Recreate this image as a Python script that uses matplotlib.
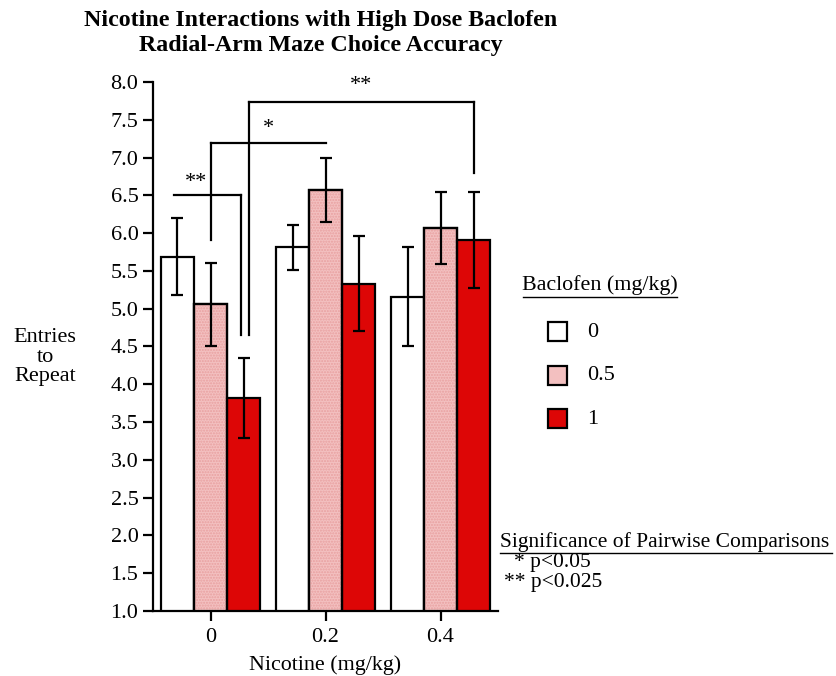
import matplotlib.pyplot as plt
from matplotlib.patches import Rectangle
from matplotlib.lines import Line2D

plt.rcParams['font.family'] = ['Liberation Serif', 'DejaVu Serif']

# data
nicotine = ['0', '0.2', '0.4']
baclofen = ['0', '0.5', '1']
means_b0 = [5.69, 5.81, 5.16]
means_b05 = [5.06, 6.57, 6.07]
means_b1 = [3.82, 5.33, 5.91]
sem_b0 = [0.51, 0.30, 0.65]
sem_b05 = [0.55, 0.42, 0.48]
sem_b1 = [0.53, 0.63, 0.63]
y_ticks = [1.0, 1.5, 2.0, 2.5, 3.0, 3.5, 4.0, 4.5, 5.0, 5.5, 6.0, 6.5, 7.0, 7.5, 8.0]

# brackets: (group, bar) left/right, bar height level, drop levels, label
br_left = [(0, 0), (0, 1), (0, 2)]
br_right = [(0, 2), (1, 1), (2, 2)]
br_y = [6.51, 7.19, 7.73]
br_drop_left = [None, 5.91, 4.65]
br_drop_right = [4.65, None, 6.79]
br_label = ['**', '*', '**']

colors = ['white', '#f3c0c0', '#dd0606']
w = 0.287

fig = plt.figure(figsize=(8.37, 6.76), dpi=100)
ax = fig.add_axes([0.1828, 0.0962, 0.4122, 0.7825])

all_means = [means_b0, means_b05, means_b1]
all_sem = [sem_b0, sem_b05, sem_b1]


def bar_x(g, j):
    return g + (j - 1) * w


for j in range(3):
    xs = [bar_x(g, j) for g in range(3)]
    ax.bar(xs, all_means[j], width=w, bottom=0, color=colors[j],
           edgecolor='black', linewidth=1.6, zorder=2)
    if j == 1:
        # stippled fill of the 0.5 mg/kg bars
        ax.bar(xs, all_means[j], width=w, color='none', edgecolor='#e8a0a0',
               hatch='......', linewidth=0, zorder=2.1)
        ax.bar(xs, all_means[j], width=w, color='none', edgecolor='black',
               linewidth=1.6, zorder=2.2)
    ax.errorbar(xs, all_means[j], yerr=all_sem[j], fmt='none', ecolor='black',
                elinewidth=1.6, capsize=4.5, capthick=1.6, zorder=3)

# significance brackets
nudge_l = [-0.03, 0.0, 0.048]
nudge_r = [-0.022, 0.0, 0.0]
for i in range(3):
    xl = bar_x(*br_left[i]) + nudge_l[i]
    xr = bar_x(*br_right[i]) + nudge_r[i]
    ax.plot([xl, xr], [br_y[i], br_y[i]], color='black', lw=1.6,
            clip_on=False, zorder=4)
    if br_drop_left[i] is not None:
        ax.plot([xl, xl], [br_y[i], br_drop_left[i]], color='black', lw=1.6,
                clip_on=False, zorder=4)
    if br_drop_right[i] is not None:
        ax.plot([xr, xr], [br_y[i], br_drop_right[i]], color='black', lw=1.6,
                clip_on=False, zorder=4)
    xm = (xl + xr) / 2
    if i == 0:
        xm -= 0.1
    ax.text(xm, br_y[i] + 0.04 + 0.03 * i, br_label[i], ha='center',
            va='bottom', fontsize=16, clip_on=False)

ax.set_xlim(-0.5, 2.5)
ax.set_ylim(1.0, 8.0)
ax.set_yticks(y_ticks)
ax.set_yticklabels(['%.1f' % v for v in y_ticks])
ax.set_xticks(range(3))
ax.set_xticklabels(nicotine)
ax.tick_params(axis='both', labelsize=16, width=1.6, length=7, direction='out')
ax.tick_params(axis='x', pad=5)
ax.spines['top'].set_visible(False)
ax.spines['right'].set_visible(False)
ax.spines['left'].set_linewidth(1.6)
ax.spines['bottom'].set_linewidth(1.6)
ax.set_xlabel('Nicotine (mg/kg)', fontsize=15.8, labelpad=6)

fig.text(45 / 837, 1 - 357 / 676, 'Entries\nto\nRepeat', ha='center',
         va='center', fontsize=16, linespacing=1.0)

# title
fig.text(321 / 837, 1 - 33 / 676,
         'Nicotine Interactions with High Dose Baclofen\nRadial-Arm Maze Choice Accuracy',
         ha='center', va='center', fontsize=17.2, fontweight='bold',
         linespacing=1.25)

# legend
fig.text(600 / 837, 1 - 285 / 676, 'Baclofen (mg/kg)', ha='center',
         va='center', fontsize=15.8)
fig.add_artist(Line2D([523 / 837, 677 / 837], [1 - 297 / 676, 1 - 297 / 676],
                      color='black', lw=1.0))
leg_y = [331, 375, 418]
for k in range(3):
    fig.add_artist(Rectangle((548 / 837, 1 - (leg_y[k] + 10) / 676),
                             19 / 837, 19 / 676, facecolor=colors[k],
                             edgecolor='black', lw=1.6,
                             transform=fig.transFigure))
    fig.text(587 / 837, 1 - (leg_y[k] + 1) / 676, baclofen[k], ha='left',
             va='center', fontsize=16)

# significance key
fig.text(500 / 837, 1 - 542 / 676, 'Significance of Pairwise Comparisons',
         ha='left', va='center', fontsize=15.5)
fig.add_artist(Line2D([500 / 837, 832 / 837], [1 - 553 / 676, 1 - 553 / 676],
                      color='black', lw=1.0))
fig.text(514 / 837, 1 - 563 / 676, '* p<0.05', ha='left', va='center',
         fontsize=15.5)
fig.text(504 / 837, 1 - 583 / 676, '** p<0.025', ha='left', va='center',
         fontsize=15.5)

fig.savefig('out.png', dpi=100)
